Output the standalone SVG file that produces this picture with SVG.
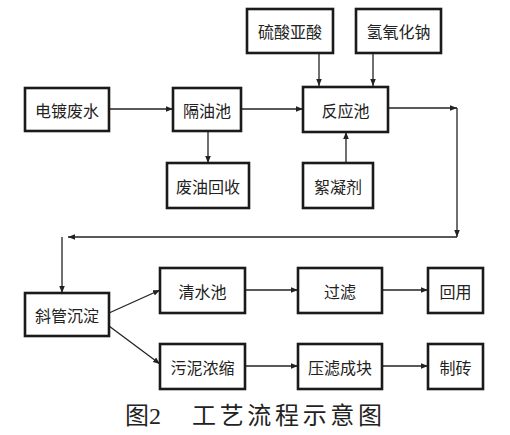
<svg xmlns="http://www.w3.org/2000/svg" width="510" height="435" viewBox="0 0 510 435">
<defs>
<marker id="ah" viewBox="0 0 10 10" refX="10" refY="5" markerWidth="7" markerHeight="7" markerUnits="userSpaceOnUse" orient="auto">
<path d="M0,1 L10,5 L0,9 z" fill="#222"/>
</marker>
<style>
.box{fill:#fff;stroke:#1a1a1a;stroke-width:2.6}
.lbl{font-family:"Noto Sans CJK SC","Liberation Sans",sans-serif;font-size:16px;fill:#222;text-anchor:middle;dominant-baseline:central}
.ln{fill:none;stroke:#222;stroke-width:1.3;marker-end:url(#ah)}
.cap{font-family:"Liberation Serif","Noto Sans CJK SC",serif;font-size:24px;fill:#222}
</style>
</defs>
<rect width="510" height="435" fill="#fff"/>
<g id="connectors">
<path class="ln" d="M109,109 H173"/>
<path class="ln" d="M241,109 H303"/>
<path class="ln" d="M319,53 V86"/>
<path class="ln" d="M373,53 V86"/>
<path class="ln" d="M208,131 V163"/>
<path class="ln" d="M346,163 V132"/>
<path class="ln" d="M388,108 H457"/>
<path class="ln" d="M457,108 V237"/>
<path class="ln" d="M457,237 H68"/>
<path class="ln" d="M62,237 V293"/>
<path class="ln" d="M109,313 L160,290"/>
<path class="ln" d="M109,326 L160,364"/>
<path class="ln" d="M245,290 H298"/>
<path class="ln" d="M382,290 H428"/>
<path class="ln" d="M245,366 H298"/>
<path class="ln" d="M382,366 H428"/>
</g>
<g id="n1"><rect class="box" x="25" y="88" width="84" height="43"/><text class="lbl" x="67" y="110">电镀废水</text></g>
<g id="n2"><rect class="box" x="173" y="88" width="68" height="43"/><text class="lbl" x="207" y="110">隔油池</text></g>
<g id="n3"><rect class="box" x="303" y="87" width="85" height="45"/><text class="lbl" x="345.5" y="110">反应池</text></g>
<g id="n4"><rect class="box" x="247" y="9" width="86" height="44"/><text class="lbl" x="290" y="31">硫酸亚酸</text></g>
<g id="n5"><rect class="box" x="356" y="9" width="85" height="44"/><text class="lbl" x="398.5" y="31">氢氧化钠</text></g>
<g id="n6"><rect class="box" x="167" y="163" width="82" height="45"/><text class="lbl" x="208" y="186">废油回收</text></g>
<g id="n7"><rect class="box" x="303" y="163" width="70" height="45"/><text class="lbl" x="338" y="186">絮凝剂</text></g>
<g id="n8"><rect class="box" x="25" y="293" width="84" height="43"/><text class="lbl" x="67" y="315">斜管沉淀</text></g>
<g id="n9"><rect class="box" x="160" y="268" width="85" height="45"/><text class="lbl" x="202.5" y="291">清水池</text></g>
<g id="n10"><rect class="box" x="298" y="268" width="84" height="45"/><text class="lbl" x="340" y="291">过滤</text></g>
<g id="n11"><rect class="box" x="428" y="268" width="55" height="45"/><text class="lbl" x="455.5" y="291">回用</text></g>
<g id="n12"><rect class="box" x="160" y="344" width="85" height="45"/><text class="lbl" x="202.5" y="367">污泥浓缩</text></g>
<g id="n13"><rect class="box" x="298" y="344" width="84" height="45"/><text class="lbl" x="340" y="367">压滤成块</text></g>
<g id="n14"><rect class="box" x="428" y="344" width="55" height="45"/><text class="lbl" x="455.5" y="367">制砖</text></g>
<text class="cap" x="125" y="424">图2</text>
<text class="cap" x="192" y="424" textLength="190" lengthAdjust="spacing">工艺流程示意图</text>
</svg>
